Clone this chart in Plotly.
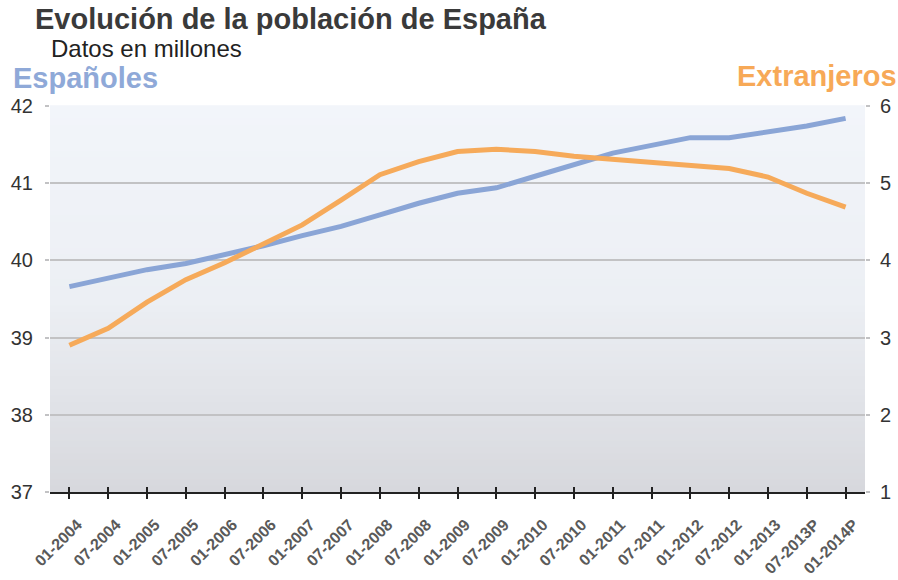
import plotly.graph_objects as go

periodos = ["01-2004", "07-2004", "01-2005", "07-2005", "01-2006", "07-2006", "01-2007",
            "07-2007", "01-2008", "07-2008", "01-2009", "07-2009", "01-2010", "07-2010",
            "01-2011", "07-2011", "01-2012", "07-2012", "01-2013", "07-2013P", "01-2014P"]
espanoles = [39.66, 39.77, 39.88, 39.96, 40.07, 40.19, 40.32, 40.44, 40.59, 40.74, 40.87,
             40.94, 41.09, 41.24, 41.39, 41.49, 41.59, 41.59, 41.67, 41.74, 41.84]
extranjeros = [2.90, 3.12, 3.46, 3.75, 3.97, 4.22, 4.46, 4.78, 5.11, 5.28, 5.41,
               5.44, 5.41, 5.35, 5.31, 5.27, 5.24, 5.19, 5.08, 4.87, 4.69]
ticks_izq = [37, 38, 39, 40, 41, 42]
ticks_der = [1, 2, 3, 4, 5, 6]

AZUL = "#8aa5d6"
NARANJA = "#f6aa5a"
FONT = "Liberation Sans, Arial, sans-serif"

fig = go.Figure()
fig.add_trace(go.Scatter(x=periodos, y=espanoles, mode="lines", name="Españoles",
                         line=dict(color=AZUL, width=5), yaxis="y", hoverinfo="skip"))
fig.add_trace(go.Scatter(x=periodos, y=extranjeros, mode="lines", name="Extranjeros",
                         line=dict(color=NARANJA, width=5), yaxis="y2", hoverinfo="skip"))
# helper trace so that the overlaid tick axis is drawn
fig.add_trace(go.Scatter(x=[None], y=[None], xaxis="x2", yaxis="y", showlegend=False,
                         hoverinfo="skip"))

# gradient background of the plot area
def lerp(c1, c2, t):
    return tuple(round(a + (b - a) * t) for a, b in zip(c1, c2))

top = (242, 245, 250)
mid = (236, 239, 244)
bot = (215, 216, 221)
n = 60
shapes = []
for i in range(n):
    f0 = i / n
    f1 = (i + 1) / n
    fc = (f0 + f1) / 2  # 0 = bottom, 1 = top
    if fc < 0.5:
        c = lerp(bot, mid, fc / 0.5)
    else:
        c = lerp(mid, top, (fc - 0.5) / 0.5)
    shapes.append(dict(type="rect", xref="x domain", yref="y domain", x0=0, x1=1,
                       y0=f0, y1=f1 + 0.002, line=dict(width=0),
                       fillcolor="rgb(%d,%d,%d)" % c, layer="below"))

fig.update_layout(
    width=898, height=580,
    margin=dict(l=50, r=33, t=106, b=88, autoexpand=False),
    paper_bgcolor="white", plot_bgcolor="rgba(0,0,0,0)",
    showlegend=False,
    shapes=shapes,
    font=dict(family=FONT, color="#333"),
    xaxis=dict(type="category", range=[-0.5, 20.5], tickangle=-45, automargin=False,
               tickfont=dict(family=FONT, size=16, color="#5a5a5a", weight="bold"),
               ticklabelstandoff=10, ticklabelshift=8,
               showline=True, linecolor="#222", linewidth=2,
               ticks="outside", ticklen=5, tickwidth=2, tickcolor="#222",
               showgrid=False, zeroline=False, fixedrange=True),
    xaxis2=dict(overlaying="x", anchor="y", side="bottom", range=[-0.5, 20.5],
                automargin=False,
                tickmode="array", tickvals=list(range(len(periodos))),
                showticklabels=False, ticks="inside", ticklen=5, tickwidth=2,
                tickcolor="#222", showgrid=False, zeroline=False, showline=False),
    yaxis=dict(range=[37, 42], tickmode="array", tickvals=ticks_izq, automargin=False,
               tickfont=dict(family=FONT, size=20, color="#333"),
               showgrid=True, gridcolor="#c2c2c4", gridwidth=2,
               ticks="outside", ticklen=4, tickcolor="#c2c2c4", tickwidth=2,
               ticklabelstandoff=8,
               showline=False, zeroline=False),
    yaxis2=dict(range=[1, 6], tickmode="array", tickvals=ticks_der, overlaying="y",
                automargin=False,
                side="right", tickfont=dict(family=FONT, size=20, color="#333"),
                showgrid=False, ticks="outside", ticklen=4, tickcolor="#c2c2c4",
                tickwidth=2, ticklabelstandoff=6, showline=False, zeroline=False),
    annotations=[
        dict(text="<b>Evolución de la población de España</b>", xref="paper", yref="paper",
             x=-0.0209, y=1.0, xanchor="left", yanchor="middle", yshift=87,
             showarrow=False, font=dict(family=FONT, size=29, color="#3a3a3a")),
        dict(text="Datos en millones", xref="paper", yref="paper",
             x=-0.0012, y=1.0, xanchor="left", yanchor="middle", yshift=58,
             showarrow=False, font=dict(family=FONT, size=24, color="#222")),
        dict(text="<b>Españoles</b>", xref="paper", yref="paper",
             x=-0.0479, y=1.0, xanchor="left", yanchor="middle", yshift=28,
             showarrow=False, font=dict(family=FONT, size=29, color="#8fa9d8")),
        dict(text="<b>Extranjeros</b>", xref="paper", yref="paper",
             x=1.0423, y=1.0, xanchor="right", yanchor="middle", yshift=30,
             showarrow=False, font=dict(family=FONT, size=29, color="#f7a957")),
    ],
)

fig.write_html("out.html", config={"displayModeBar": False},
               post_script="document.body.style.margin='0';document.body.style.padding='0';")
